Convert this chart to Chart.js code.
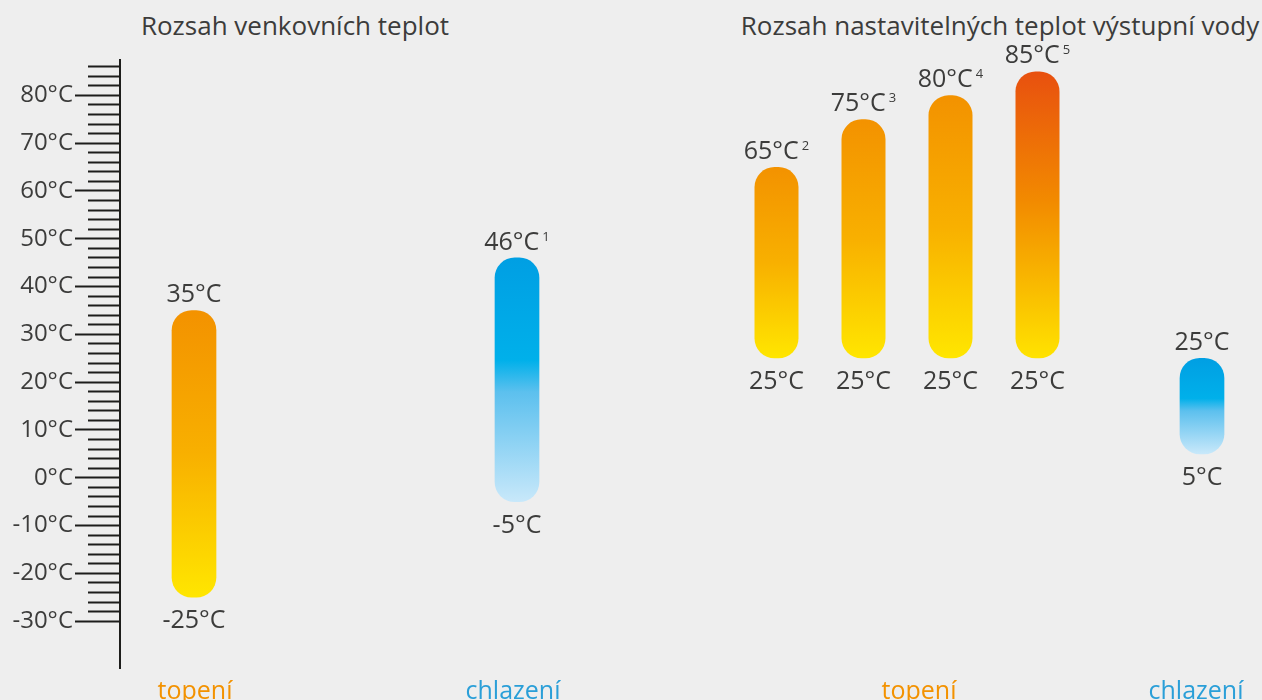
<!DOCTYPE html>
<html><head><meta charset="utf-8">
<script src="https://cdn.jsdelivr.net/npm/chart.js@4.4.1/dist/chart.umd.min.js"></script>
<style>
html,body{margin:0;padding:0;width:1262px;height:700px;overflow:hidden;background:#eeeeee;}
.c{position:absolute;top:0;}
.t{position:absolute;top:10px;font-family:"Open Sans";font-size:26px;color:#3c3c3b;text-align:center;line-height:30px;white-space:nowrap;}
</style></head><body>
<div class="t" id="t1" style="left:-5px;width:600px;"></div>
<div class="t" id="t2" style="left:700px;width:600px;"></div>
<canvas id="cA" class="c" width="268" height="700" style="left:0"></canvas>
<canvas id="cB" class="c" width="154" height="700" style="left:440px"></canvas>
<canvas id="cC" class="c" width="348" height="700" style="left:733px"></canvas>
<canvas id="cD" class="c" width="120" height="700" style="left:1142px"></canvas>
<script>
// ---------- data ----------
const panelTitles = ['Rozsah venkovních teplot', 'Rozsah nastavitelných teplot výstupní vody'];
const unit = '°C';

const outdoorCategories = ['topení', 'chlazení'];
const outdoorMin = [-25, -5];
const outdoorMax = [35, 46];
const outdoorNotes = ['', '1'];

const waterHeatCategory = ['topení'];
const waterHeatMin = [25, 25, 25, 25];
const waterHeatMax = [65, 75, 80, 85];
const waterHeatNotes = ['2', '3', '4', '5'];

const waterCoolCategory = ['chlazení'];
const waterCoolMin = [5];
const waterCoolMax = [25];
const waterCoolNotes = [''];

const majorTicks = [-30, -20, -10, 0, 10, 20, 30, 40, 50, 60, 70, 80];
const minorTickFirst = -30, minorTickLast = 86, minorTickStep = 2;

// ---------- style ----------
const TEXT = '#3c3c3b';
const AXIS = '#1d1d1b';
const catColors = { 'topení': '#f39200', 'chlazení': '#2a9fd8' };
const heatStops = [[0, '#f39200'], [0.5, '#f8b000'], [1, '#ffe600']];
const heatHotStops = [[0, '#e8500f'], [0.45, '#f28a00'], [1, '#ffe300']];
const heatStopsPerBar = [heatStops, heatStops, heatStops, heatHotStops];
const coolStops = [[0, '#009fe3'], [0.42, '#00b0ea'], [0.55, '#5cc0ee'], [1, '#c8e8fa']];
const Y_MIN = -39.8, Y_MAX = 87.4;
const FONT = 'Open Sans';

Chart.defaults.font.family = FONT;
Chart.defaults.animation = false;

document.getElementById('t1').textContent = panelTitles[0];
document.getElementById('t2').textContent = panelTitles[1];

function grad(stops) {
  return (c) => {
    const chart = c.chart, y = chart.scales.y, raw = c.raw;
    if (!y || !Array.isArray(raw)) return stops[0][1];
    const top = y.getPixelForValue(Math.max(...raw));
    const bot = y.getPixelForValue(Math.min(...raw));
    if (!isFinite(top) || !isFinite(bot)) return stops[0][1];
    const g = chart.ctx.createLinearGradient(0, top, 0, bot);
    stops.forEach(([o, col]) => g.addColorStop(o, col));
    return g;
  };
}

function drawLabel(ctx, cx, baseline, text, note) {
  ctx.save();
  ctx.fillStyle = TEXT;
  ctx.textBaseline = 'alphabetic';
  ctx.textAlign = 'left';
  ctx.font = '25px "' + FONT + '"';
  const w = ctx.measureText(text).width;
  let nw = 0;
  if (note) { ctx.font = '13px "' + FONT + '"'; nw = ctx.measureText(note).width + 3; }
  const x0 = cx - (w + nw) / 2;
  ctx.font = '25px "' + FONT + '"';
  ctx.fillText(text, x0, baseline);
  if (note) { ctx.font = '13px "' + FONT + '"'; ctx.fillText(note, x0 + w + 3, baseline - 9); }
  ctx.restore();
}

const rangeLabels = {
  id: 'rangeLabels',
  afterDatasetsDraw(chart) {
    const ctx = chart.ctx;
    chart.data.datasets.forEach((ds, di) => {
      const meta = chart.getDatasetMeta(di);
      meta.data.forEach((el, i) => {
        const raw = ds.data[i];
        if (!Array.isArray(raw)) return;
        const lo = Math.min(...raw), hi = Math.max(...raw);
        const top = Math.min(el.y, el.base), bot = Math.max(el.y, el.base);
        drawLabel(ctx, el.x, top - 8, hi + unit, (ds.notes || [])[i]);
        drawLabel(ctx, el.x, bot + 31, lo + unit, '');
      });
    });
  }
};

function xScale(labelOffset) {
  return {
    type: 'category',
    grid: { display: false, drawTicks: false },
    border: { display: false },
    ticks: {
      font: { size: 25 },
      color: (c) => catColors[c.chart.data.labels[c.index]] || TEXT,
      padding: 9,
      labelOffset: labelOffset
    },
    afterFit: (s) => { s.height = 32; }
  };
}

function hiddenY() {
  return { display: false, min: Y_MIN, max: Y_MAX };
}

function baseOptions(scales) {
  return {
    responsive: false,
    maintainAspectRatio: false,
    animation: false,
    layout: { padding: { top: 60, left: 0, right: 0, bottom: 0 } },
    plugins: { legend: { display: false }, tooltip: { enabled: false }, title: { display: false } },
    scales: scales
  };
}

function barDataset(lo, hi, notes, stops, extra) {
  return Object.assign({
    data: lo.map((v, i) => [v, hi[i]]),
    notes: notes,
    backgroundColor: grad(stops),
    borderRadius: 20,
    borderSkipped: false,
    borderWidth: 0
  }, extra || {});
}

// Chart A: axis + outdoor heating
new Chart(document.getElementById('cA'), {
  type: 'bar',
  data: {
    labels: [outdoorCategories[0]],
    datasets: [barDataset([outdoorMin[0]], [outdoorMax[0]], [outdoorNotes[0]], heatStops, { barThickness: 44, yAxisID: 'y' })]
  },
  options: baseOptions({
    x: xScale(1),
    y: {
      position: 'left', weight: 0, min: Y_MIN, max: Y_MAX,
      ticks: { display: false, stepSize: minorTickStep, autoSkip: false, includeBounds: false },
      afterBuildTicks: (s) => { s.ticks = s.ticks.filter(t => t.value >= minorTickFirst && t.value <= minorTickLast); },
      grid: { drawOnChartArea: false, tickLength: 32, tickColor: AXIS, tickWidth: 2 },
      border: { display: true, color: AXIS, width: 2 },
      afterFit: (s) => { s.width = 32; }
    },
    yMajor: {
      position: 'left', weight: 1, min: Y_MIN, max: Y_MAX,
      afterBuildTicks: (s) => { s.ticks = majorTicks.map(v => ({ value: v })); },
      ticks: { callback: (v) => v + unit, font: { size: 24 }, color: TEXT, padding: 2, autoSkip: false },
      grid: { drawOnChartArea: false, tickLength: 13, tickColor: AXIS, tickWidth: 2 },
      border: { display: false },
      afterFit: (s) => { s.width = 88; }
    }
  }),
  plugins: [rangeLabels]
});

// Chart B: outdoor cooling
new Chart(document.getElementById('cB'), {
  type: 'bar',
  data: {
    labels: [outdoorCategories[1]],
    datasets: [barDataset([outdoorMin[1]], [outdoorMax[1]], [outdoorNotes[1]], coolStops, { barThickness: 44 })]
  },
  options: baseOptions({ x: xScale(-4), y: hiddenY() }),
  plugins: [rangeLabels]
});

// Chart C: water heating
new Chart(document.getElementById('cC'), {
  type: 'bar',
  data: {
    labels: waterHeatCategory,
    datasets: waterHeatMax.map((hi, k) => barDataset([waterHeatMin[k]], [hi], [waterHeatNotes[k]], heatStopsPerBar[k],
      { categoryPercentage: 1, barPercentage: 44 / 87 }))
  },
  options: baseOptions({ x: xScale(12), y: hiddenY() }),
  plugins: [rangeLabels]
});

// Chart D: water cooling
new Chart(document.getElementById('cD'), {
  type: 'bar',
  data: {
    labels: waterCoolCategory,
    datasets: [barDataset(waterCoolMin, waterCoolMax, waterCoolNotes, coolStops, { barThickness: 44 })]
  },
  options: baseOptions({ x: xScale(-6), y: hiddenY() }),
  plugins: [rangeLabels]
});
</script>
</body></html>
